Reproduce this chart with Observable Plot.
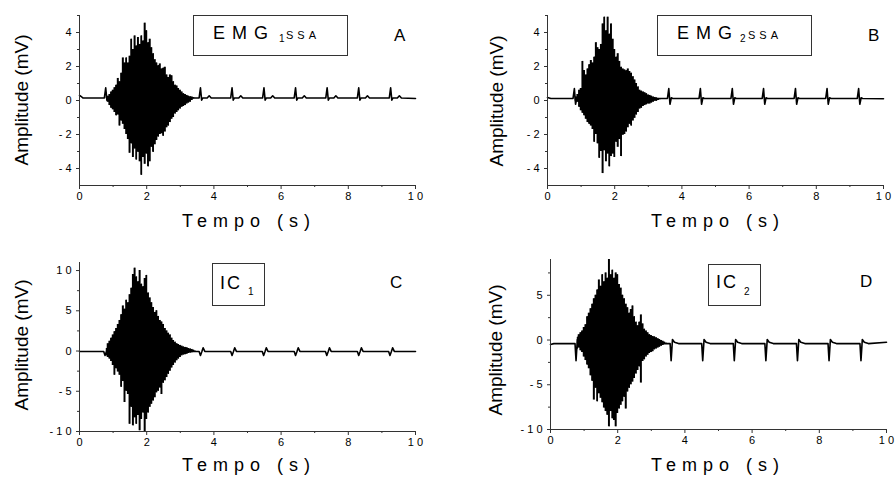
<!DOCTYPE html>
<html><head><meta charset="utf-8">
<script src="https://cdn.jsdelivr.net/npm/d3@7"></script>
<script src="https://cdn.jsdelivr.net/npm/@observablehq/plot@0.6"></script>
<style>
html,body{margin:0;padding:0;background:#fff;}
#fig{position:relative;width:895px;height:477px;overflow:hidden;font-family:"Liberation Sans",Arial,sans-serif;}
.panel{position:absolute;}
.panel svg{overflow:visible;display:block;}
#ann{position:absolute;left:0;top:0;pointer-events:none;}
</style></head><body><div id="fig"></div><script>
// ---------- data ----------
const xMajor = [0, 2, 4, 6, 8, 10];
const xMinor = [1, 3, 5, 7, 9];
const yMajorAB = [-4, -2, 0, 2, 4];
const yMinorAB = [-3, -1, 1, 3, 5];
const yMajorC = [-10, -5, 0, 5, 10];
const yMinorC = [-7.5, -2.5, 2.5, 7.5];
const yMajorD = [-10, -5, 0, 5];
const yMinorD = [-7.5, -2.5, 2.5, 7.5];

// time grid of the EMG burst envelope (s)
const burstT = [0.80,0.85,0.90,0.95,1.00,1.05,1.10,1.15,1.20,1.25,1.30,1.35,1.40,1.45,1.50,1.55,1.60,1.65,1.70,1.75,1.80,1.85,1.90,1.95,2.00,2.05,2.10,2.15,2.20,2.25,2.30,2.35,2.40,2.45,2.50,2.55,2.60,2.65,2.70,2.75,2.80,2.85,2.90,2.95,3.00,3.05,3.10,3.15,3.20,3.25,3.30,3.35,3.40,3.45];

// A: EMG1 SSA
const upA = [0.2,0.25,0.35,0.5,0.6,0.75,0.9,1.3,1.1,1.6,2.5,2.2,2.5,2.2,2.6,3.6,3.0,3.8,3.2,3.7,3.3,3.8,3.5,4.55,4.1,3.4,3.6,3.1,2.75,2.4,2.2,2.05,2.15,1.85,1.9,1.95,1.5,1.35,1.5,1.45,1.1,0.9,0.85,0.7,0.6,0.5,0.4,0.35,0.3,0.25,0.22,0.2,0.16,0.15];
const loA = [0.1,-0.1,-0.3,-0.45,-0.55,-0.7,-0.9,-0.85,-1.5,-1.2,-1.4,-1.7,-2.0,-2.3,-3.1,-2.55,-3.35,-2.85,-3.5,-3.05,-3.6,-4.4,-3.35,-3.75,-3.15,-3.9,-3.6,-2.75,-3.05,-2.6,-2.35,-2.15,-2.0,-1.95,-2.1,-1.85,-1.6,-1.5,-1.3,-1.1,-1.0,-0.8,-0.7,-0.6,-0.5,-0.4,-0.35,-0.3,-0.2,-0.15,-0.1,0.0,0.1,0.15];
const beatsA = [0.78, 3.60, 4.54, 5.49, 6.43, 7.37, 8.31, 9.26];
const beatOffA = [-0.04, 0, 0.035, 0.07, 0.2, 0.26, 0.32];
const beatValA = [0.15, 0.75, 0.02, 0.15, 0.15, 0.28, 0.15];
const startTA = [0, 0.04, 0.1], startVA = [0.3, 0.25, 0.15], endVA = 0.12;

// B: EMG2 SSA
const upB = [0.1,0.2,0.35,0.6,0.7,2.3,1.76,1.5,1.86,2.1,2.35,2.2,2.55,3.4,3.1,3.0,3.3,4.5,4.9,4.1,4.9,3.9,4.5,3.6,3.0,2.55,2.75,2.3,1.95,1.85,1.8,1.75,1.85,1.7,1.6,1.4,1.2,1.0,0.8,0.6,0.55,0.5,0.45,0.4,0.32,0.3,0.25,0.2,0.18,0.15,0.12,0.1,0.1,0.1];
const loB = [0.1,-0.05,-0.1,-0.4,-0.6,-0.75,-0.9,-1.1,-1.3,-1.4,-1.5,-1.7,-2.45,-2.0,-2.55,-3.4,-3.0,-4.3,-2.95,-3.6,-3.15,-3.9,-3.3,-3.15,-3.35,-2.45,-2.75,-2.3,-3.3,-2.05,-2.0,-1.85,-1.6,-1.4,-1.5,-1.2,-1.05,-0.85,-0.7,-0.5,-0.45,-0.35,-0.3,-0.25,-0.2,-0.2,-0.15,-0.1,-0.05,-0.05,0.0,0.05,0.1,0.1];
const beatsB = [0.80, 3.61, 4.55, 5.50, 6.43, 7.38, 8.32, 9.26];
const beatOffB = [-0.04, 0, 0.035, 0.075, 0.12];
const beatValB = [0.12, 0.7, -0.22, 0.16, 0.12];
const startTB = [0, 0.1], startVB = [0.18, 0.12], endVB = 0.1;

// C: IC1
const upC = [0.3,0.9,1.2,1.6,2.0,2.4,2.8,3.3,3.8,4.5,5.6,5.2,6.3,6.0,7.0,7.8,9.5,10.3,9.2,8.6,10.0,8.3,8.0,9.0,9.4,7.2,6.6,6.0,5.4,4.8,5.0,4.3,3.8,3.6,3.3,2.8,2.5,2.2,2.0,1.6,1.3,1.1,0.9,0.8,0.7,0.6,0.5,0.45,0.4,0.3,0.25,0.2,0.1,0.0];
const loC = [-0.6,-0.8,-1.0,-1.3,-1.8,-3.0,-2.2,-2.6,-3.0,-4.5,-3.8,-6.4,-5.0,-5.4,-9.1,-7.0,-9.3,-8.3,-9.1,-8.0,-9.9,-8.5,-7.7,-10.0,-8.5,-7.7,-7.0,-6.6,-6.2,-5.8,-5.2,-5.0,-4.6,-5.4,-4.0,-3.7,-3.3,-2.9,-2.5,-2.1,-1.8,-1.5,-1.2,-1.0,-0.8,-0.6,-0.5,-0.45,-0.4,-0.3,-0.25,-0.2,-0.1,-0.05];
const beatsC = [0.76, 3.60, 4.54, 5.48, 6.43, 7.36, 8.31, 9.24];
const beatOffC = [-0.04, 0, 0.04, 0.08, 0.13];
const beatValC = [-0.05, -0.55, -0.1, 0.4, -0.05];
const startTC = [0], startVC = [-0.05], endVC = -0.05;

// D: IC2
const upD = [0.3,0.6,0.8,1.0,1.4,1.7,2.6,3.0,3.5,4.0,4.6,5.0,5.6,6.7,6.0,7.3,6.5,7.5,6.9,9.0,7.3,7.8,6.9,7.5,7.3,6.2,5.8,5.0,4.6,4.0,3.6,3.0,3.4,3.8,2.6,2.0,1.6,2.0,2.8,1.8,1.2,1.0,0.8,0.6,0.5,0.4,0.35,0.25,0.15,0.05,-0.05,-0.15,-0.25,-0.35];
const loD = [-1.0,-0.9,-1.2,-1.4,-1.9,-2.3,-2.8,-3.2,-4.0,-4.6,-6.7,-5.4,-6.9,-6.0,-6.5,-7.0,-7.6,-8.0,-8.4,-9.7,-8.0,-8.8,-9.0,-9.7,-8.2,-7.7,-7.3,-6.9,-6.4,-7.7,-5.8,-5.4,-5.0,-4.7,-4.3,-3.8,-3.4,-3.0,-4.8,-2.4,-2.2,-1.9,-1.7,-1.5,-1.4,-1.3,-1.1,-1.0,-0.9,-0.8,-0.7,-0.6,-0.5,-0.45];
const beatsD = [0.76, 3.59, 4.53, 5.47, 6.41, 7.35, 8.29, 9.24];
const beatOffD = [-0.03, 0, 0.04, 0.1, 0.22];
const beatValD = [-0.4, -2.3, 0.05, -0.25, -0.4];
const startTD = [0, 0.1], startVD = [-0.5, -0.4], endVD = -0.25;

// ---------- layout ----------
const panels = [
  {left:0,   top:0,   width:447, height:230, mL:79,  mR:32, mT:15, mB:45, yDomain:[-5,5],   yMajor:yMajorAB, yMinor:yMinorAB,
   up:upA, lo:loA, beats:beatsA, off:beatOffA, val:beatValA, sT:startTA, sV:startVA, eV:endVA},
  {left:447, top:0,   width:448, height:230, mL:100, mR:12, mT:15, mB:45, yDomain:[-5,5],   yMajor:yMajorAB, yMinor:yMinorAB,
   up:upB, lo:loB, beats:beatsB, off:beatOffB, val:beatValB, sT:startTB, sV:startVB, eV:endVB},
  {left:0,   top:230, width:447, height:247, mL:79,  mR:32, mT:32, mB:46, yDomain:[-10,11], yMajor:yMajorC, yMinor:yMinorC,
   up:upC, lo:loC, beats:beatsC, off:beatOffC, val:beatValC, sT:startTC, sV:startVC, eV:endVC},
  {left:447, top:230, width:448, height:247, mL:103, mR:9,  mT:29, mB:48, yDomain:[-10,9],  yMajor:yMajorD, yMinor:yMinorD,
   up:upD, lo:loD, beats:beatsD, off:beatOffD, val:beatValD, sT:startTD, sV:startVD, eV:endVD}
];

const fig = document.getElementById("fig");
const axisColor = "#333";
// Origin-style spaced tick labels, e.g. "1 0", "- 4"
const spaced = d => String(d).split("").join(" ");

for (const p of panels) {
  const trace = [];
  p.sT.forEach((t, i) => trace.push({t, v: p.sV[i]}));
  p.beats.forEach(b => p.off.forEach((o, k) => trace.push({t: b + o, v: p.val[k]})));
  trace.push({t: 10, v: p.eV});
  const burst = burstT.map((t, i) => ({t, up: p.up[i], lo: p.lo[i]}));

  const chart = Plot.plot({
    width: p.width, height: p.height,
    marginLeft: p.mL, marginRight: p.mR, marginTop: p.mT, marginBottom: p.mB,
    x: {domain: [0, 10], label: null},
    y: {domain: p.yDomain, label: null},
    style: {fontFamily: '"Liberation Sans", Arial, sans-serif', fontSize: "11px", color: "black", background: "transparent"},
    marks: [
      Plot.line(trace, {x: "t", y: "v", stroke: "black", strokeWidth: 1.6}),
      Plot.areaY(burst, {x: "t", y1: "lo", y2: "up", fill: "black", curve: "step"}),
      Plot.ruleX(burst, {x: "t", y1: "lo", y2: "up", stroke: "black", strokeWidth: 1}),
      Plot.ruleX([0], {stroke: axisColor}),
      Plot.ruleY([p.yDomain[0]], {stroke: axisColor}),
      Plot.axisX(xMajor, {tickSize: 4, tickPadding: 3, tickFormat: spaced, stroke: axisColor, label: null}),
      Plot.axisX(xMinor, {tickSize: 2, tickFormat: () => "", stroke: axisColor, label: null}),
      Plot.axisY(p.yMajor, {tickSize: 3, tickPadding: 5, tickFormat: spaced, stroke: axisColor, label: null}),
      Plot.axisY(p.yMinor, {tickSize: 2, tickFormat: () => "", stroke: axisColor, label: null})
    ]
  });
  const div = document.createElement("div");
  div.className = "panel";
  div.style.left = p.left + "px";
  div.style.top = p.top + "px";
  div.appendChild(chart);
  fig.appendChild(div);
}

// ---------- annotations (text) ----------
const svg = d3.select(fig).append("svg").attr("id", "ann").attr("width", 895).attr("height", 477)
  .style("font-family", '"Liberation Sans", Arial, sans-serif');

const boxes = [[193.5, 15.5, 154, 40], [657.5, 15.5, 154, 40], [212.5, 263.5, 52, 42], [708.5, 264.5, 52, 41]];
boxes.forEach(([x, y, w, h]) => svg.append("rect").attr("x", x).attr("y", y).attr("width", w).attr("height", h)
  .attr("fill", "none").attr("stroke", axisColor).attr("stroke-width", 1));

const texts = [
  // [text, x, y, size, letterSpacing, anchor]
  ["EMG", 213, 39, 18, 7, "start"], ["1", 279, 42, 10, 0, "start"], ["SSA", 286, 39, 11, 4, "start"],
  ["EMG", 677, 39, 18, 7, "start"], ["2", 740, 42, 10, 0, "start"], ["SSA", 748, 39, 11, 4, "start"],
  ["IC", 220, 289, 18, 2, "start"], ["1", 248, 295, 10, 0, "start"],
  ["IC", 716, 288, 18, 2, "start"], ["2", 744, 295, 10, 0, "start"],
  ["A", 394, 41, 17, 0, "start"], ["B", 868, 41, 17, 0, "start"],
  ["C", 390, 288, 17, 0, "start"], ["D", 860, 287, 17, 0, "start"],
  ["Tempo (s)", 249, 227, 18, 6, "middle"], ["Tempo (s)", 718, 227, 18, 6, "middle"],
  ["Tempo (s)", 249, 471, 18, 6, "middle"], ["Tempo (s)", 718, 471, 18, 6, "middle"]
];
texts.forEach(([s, x, y, size, ls, anchor]) => svg.append("text").attr("x", x).attr("y", y)
  .attr("font-size", size).attr("letter-spacing", ls).attr("text-anchor", anchor).attr("fill", "black").text(s));

const ylabels = [[28, 100], [503, 101], [28, 345], [502, 350]];
ylabels.forEach(([x, y]) => svg.append("text").attr("transform", `translate(${x},${y}) rotate(-90)`)
  .attr("text-anchor", "middle").attr("font-size", 19).attr("fill", "black").text("Amplitude (mV)"));
</script></body></html>
